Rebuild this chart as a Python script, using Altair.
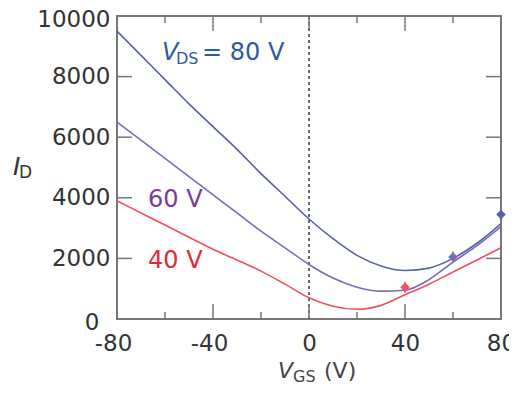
import altair as alt
import pandas as pd

# ---- data ----
vgs = [-80, -70, -60, -50, -40, -30, -20, -10, 0, 10, 20, 30, 40, 50, 60, 70, 80]
id_80 = [9500, 8700, 7900, 7100, 6350, 5600, 4800, 4050, 3300, 2650, 2100, 1750, 1600, 1680, 2000, 2500, 3150]
id_60 = [6500, 5900, 5300, 4700, 4100, 3500, 2900, 2350, 1800, 1350, 1050, 920, 950, 1300, 1880, 2420, 3050]
id_40 = [3900, 3500, 3100, 2700, 2300, 1950, 1580, 1150, 700, 420, 320, 450, 800, 1150, 1550, 1950, 2350]

meas_vgs = [40, 60, 80]
meas_id = [1050, 2050, 3450]
meas_err = [180, 180, 180]
meas_series = ["40 V", "60 V", "80 V"]

x_ticks = [-80, -60, -40, -20, 0, 20, 40, 60, 80]
y_ticks = [0, 2000, 4000, 6000, 8000, 10000]

series_names = ["80 V", "60 V", "40 V"]
line_colors = ["#5462a8", "#7a6cb4", "#f0505a"]
point_colors = ["#2d5aa6", "#553a90", "#e0202e"]

W, H = 384, 303
FONT = "DejaVu Sans"

rows = []
for name, vals in zip(series_names, [id_80, id_60, id_40]):
    for v, i in zip(vgs, vals):
        rows.append({"vgs": v, "id": i, "series": name})
df = pd.DataFrame(rows)

meas = pd.DataFrame({"vgs": meas_vgs, "id": meas_id, "err": meas_err, "series": meas_series})
meas["lo"] = meas["id"] - meas["err"]
meas["hi"] = meas["id"] + meas["err"]

xs = alt.Scale(domain=[-80, 80], nice=False)
ys = alt.Scale(domain=[0, 10000], nice=False)

x_axis = alt.Axis(values=[-80, -40, 0, 40, 80], domain=False, ticks=False, grid=False,
                  labelFont=FONT, labelFontSize=23, labelColor="#333333", labelPadding=13,
                  labelFlush=False, labelOverlap=False,
                  labelExpr="datum.value < 0 ? '-' + abs(datum.value) : '' + datum.value",
                  labelOffset={"condition": {"test": "datum.value < 0", "value": -4}, "value": 0},
                  title=None)
y_axis = alt.Axis(values=y_ticks, domain=False, ticks=False, grid=False,
                  labelFont=FONT, labelFontSize=23, labelColor="#333333",
                  labelFlush=False, labelOverlap=False,
                  labelExpr="'' + datum.value",
                  labelPadding={"condition": {"test": "datum.value == 0", "value": 18}, "value": 7},
                  labelOffset={"condition": {"test": "datum.value == 0 || datum.value == 10000",
                                             "value": 3},
                               "value": 0},
                  title=None)

base = alt.Chart(df)

lines = base.mark_line(strokeWidth=1.6, interpolate="monotone").encode(
    x=alt.X("vgs:Q", scale=xs, axis=x_axis),
    y=alt.Y("id:Q", scale=ys, axis=y_axis),
    color=alt.Color("series:N", scale=alt.Scale(domain=series_names, range=line_colors), legend=None),
    detail="series:N",
)

pcolor = alt.Color("series:N", scale=alt.Scale(domain=series_names, range=point_colors), legend=None)
errbars = alt.Chart(meas).mark_rule(strokeWidth=1.5).encode(
    x="vgs:Q", y="lo:Q", y2="hi:Q", color=pcolor)
points = alt.Chart(meas).mark_point(shape="diamond", filled=True, size=90, opacity=1).encode(
    x="vgs:Q", y="id:Q", color=pcolor)

# dotted zero line
zero = alt.Chart(pd.DataFrame({"v": [0]})).mark_rule(color="#444444", strokeWidth=1.6, strokeDash=[3, 3]).encode(
    x="v:Q", y=alt.value(0), y2=alt.value(H))

# inward ticks
tick_df = pd.DataFrame({"v": x_ticks, "len": [15 if v % 40 == 0 else 7 for v in x_ticks]})
ytick_df = pd.DataFrame({"v": [2000, 4000, 6000, 8000]})
tick_style = dict(color="#777777", strokeWidth=1.5)
bt = alt.Chart(tick_df[tick_df["len"] == 15]).mark_rule(**tick_style).encode(x="v:Q", y=alt.value(H), y2=alt.value(H - 15))
btm = alt.Chart(tick_df[tick_df["len"] == 7]).mark_rule(**tick_style).encode(x="v:Q", y=alt.value(H), y2=alt.value(H - 7))
tt = alt.Chart(tick_df[tick_df["len"] == 15]).mark_rule(**tick_style).encode(x="v:Q", y=alt.value(0), y2=alt.value(15))
ttm = alt.Chart(tick_df[tick_df["len"] == 7]).mark_rule(**tick_style).encode(x="v:Q", y=alt.value(0), y2=alt.value(7))
lt = alt.Chart(ytick_df).mark_rule(**tick_style).encode(y="v:Q", x=alt.value(0), x2=alt.value(15))
rt = alt.Chart(ytick_df).mark_rule(**tick_style).encode(y="v:Q", x=alt.value(W), x2=alt.value(W - 15))


def txt(text, x, y, size, color, italic=False):
    return alt.Chart(pd.DataFrame({"t": [text]})).mark_text(
        align="left", baseline="alphabetic", font=FONT, fontSize=size, color=color,
        fontStyle="italic" if italic else "normal").encode(
        text="t:N", x=alt.value(x), y=alt.value(y))


blue_t, purple_t, red_t = "#2f5a9e", "#7a3c9c", "#e2283a"
labels = [
    txt("V", 45, 44, 24, blue_t, True),
    txt("DS", 59, 48, 16, blue_t),
    txt("= 80 V", 85, 44, 24, blue_t),
    txt("60 V", 31, 191, 24, purple_t),
    txt("40 V", 31, 252, 24, red_t),
    txt("I", -104, 159, 25, "#333333", True),
    txt("D", -98, 162, 17, "#333333"),
    txt("V", 161, 362, 22, "#444444", True),
    txt("GS", 176, 366, 16, "#444444"),
    txt("(V)", 207, 362, 22, "#444444"),
]

chart = alt.layer(zero, bt, btm, tt, ttm, lt, rt, lines, errbars, points, *labels).properties(
    width=W, height=H,
    autosize=alt.AutoSizeParams(type="none"),
    padding={"left": 109, "top": 8, "right": 8, "bottom": 68},
).configure_view(stroke="#777777", strokeWidth=2)

chart.save("out.html", embed_options={"renderer": "svg", "actions": False})
